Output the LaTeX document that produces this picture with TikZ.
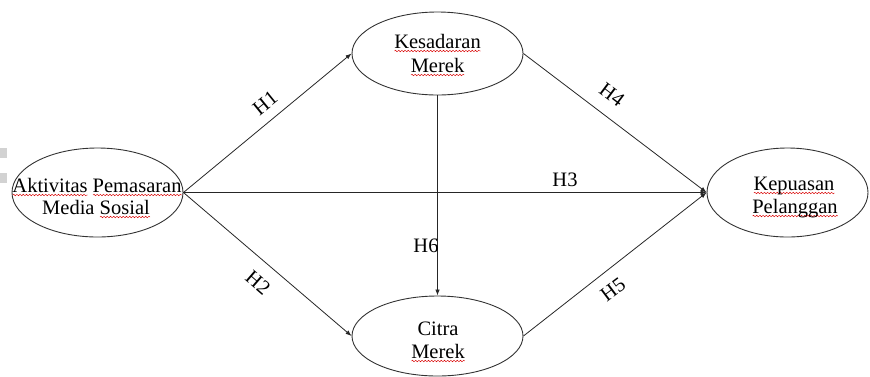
\documentclass[tikz,border=0pt]{standalone}
\usepackage{fontspec}
\setmainfont{Liberation Serif}
\usetikzlibrary{shapes.geometric,arrows.meta,decorations.pathmorphing}

% red wavy spell-check underline under a word
\newsavebox\spellbox
\newlength\spellwd
\newcommand\spellmark[1]{%
  \sbox\spellbox{#1}\setlength\spellwd{\wd\spellbox}%
  \rlap{\tikz[baseline=0pt]\draw[red!85!black,line width=0.45pt,decorate,
      decoration={snake,amplitude=0.75pt,segment length=3.2pt}]
      (0pt,-3pt) -- (\spellwd,-3pt);}%
  \usebox\spellbox}

\begin{document}
\begin{tikzpicture}[x=1pt,y=-1pt,
  ell/.style={draw=black!80, line width=0.9pt, ellipse, inner sep=0pt},
  txt/.style={anchor=base, inner sep=0pt, font=\fontsize{20.5}{24}\selectfont},
  lbl/.style={inner sep=0pt, font=\fontsize{20.5}{24}\selectfont},
  link/.style={draw=black!85, line width=0.8pt, -{Latex[length=6pt,width=4.5pt]}}]
\useasboundingbox (0,0) rectangle (870,376);

% faint marks at the left edge
\fill[gray!35] (0,148) rectangle (7,158);
\fill[gray!35] (0,173) rectangle (7,183);

% constructs
\node[ell, minimum width=171pt, minimum height=89pt] (asm) at (97.5,192.5) {};
\node[ell, minimum width=171pt, minimum height=83pt] (kes) at (437.5,53.5) {};
\node[ell, minimum width=171pt, minimum height=80pt] (cit) at (437.5,336) {};
\node[ell, minimum width=161pt, minimum height=89pt] (kep) at (787.5,192.5) {};

% construct names
\node[txt] (asm1) at (97,192) {\spellmark{Aktivitas} \spellmark{Pemasaran}};
\node[txt] (asm2) at (96,214) {Media \spellmark{Sosial}};
\node[txt] (kes1) at (437.5,48) {\spellmark{Kesadaran}};
\node[txt] (kes2) at (437.5,72) {\spellmark{Merek}};
\node[txt] (cit1) at (438,335) {Citra};
\node[txt] (cit2) at (438,358) {\spellmark{Merek}};
\node[txt] (kep1) at (794,190) {\spellmark{Kepuasan}};
\node[txt] (kep2) at (795,213) {\spellmark{Pelanggan}};

% paths
\draw[link] (asm.east) -- (kes.west);
\draw[link] (asm.east) -- (kep.west);
\draw[link] (asm.east) -- (cit.west);
\draw[link] (kes.east) -- (kep.west);
\draw[link] (cit.east) -- (kep.west);
\draw[link] (kes.south) -- (cit.north);

% hypothesis labels
\node[lbl, rotate=39] (h1) at (265,103) {H1};
\node[lbl, rotate=-41] (h2) at (258,283) {H2};
\node[lbl, anchor=base] (h3) at (565,186) {H3};
\node[lbl, rotate=-37] (h4) at (612,95) {H4};
\node[lbl, rotate=37] (h5) at (613,290) {H5};
\node[lbl, anchor=base] (h6) at (426,252) {H6};
\end{tikzpicture}
\end{document}
